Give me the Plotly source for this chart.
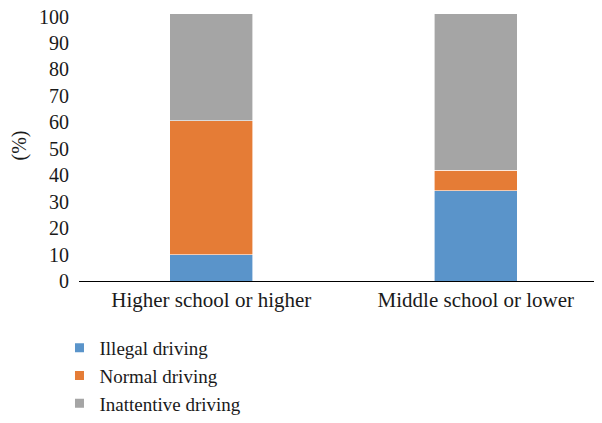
import plotly.graph_objects as go

categories = ["Higher school or higher", "Middle school or lower"]
series_names = ["Illegal driving", "Normal driving", "Inattentive driving"]
illegal = [10.0, 34.2]
normal = [50.7, 7.7]
inattentive = [40.3, 59.1]
colors = ["#5A94CA", "#E57C36", "#A5A5A5"]
y_ticks = [0, 10, 20, 30, 40, 50, 60, 70, 80, 90, 100]

FONT = "Liberation Serif"
TXT = "#1a1a1a"

fig = go.Figure()
for name, vals, col in zip(series_names, [illegal, normal, inattentive], colors):
    fig.add_trace(go.Bar(x=categories, y=vals, name=name, showlegend=False,
                         marker=dict(color=col, line=dict(color="white", width=0.6))))
for name, col in zip(series_names, colors):
    fig.add_trace(go.Scatter(x=[None], y=[None], mode="markers", name=name,
                             marker=dict(symbol="square", size=9, color=col)))

# page body has an 8px default margin, so the figure is sized to fit the window
fig.update_layout(
    width=594, height=415,
    margin=dict(l=71, r=0, t=2, b=142, autoexpand=False),
    barmode="stack", bargap=0.686,
    plot_bgcolor="white", paper_bgcolor="white",
    font=dict(family=FONT, size=20, color=TXT),
    xaxis=dict(range=[-0.5, 1.477], showline=True, linecolor="black", linewidth=1.3,
               ticks="", showgrid=False, zeroline=False, ticklabelstandoff=0,
               automargin=False, tickangle=0, ticklabeloverflow="allow",
               tickfont=dict(family=FONT, size=21, color=TXT)),
    yaxis=dict(range=[0, 102.5], tickvals=y_ticks, showgrid=False, zeroline=False,
               showline=False, ticks="", ticklabelstandoff=9, automargin=False,
               ticklabeloverflow="allow",
               title=dict(text="(%)", standoff=10, font=dict(family=FONT, size=20, color=TXT)),
               tickfont=dict(family=FONT, size=20, color=TXT)),
    legend=dict(orientation="v", x=-0.0373, xanchor="left", y=-0.524, yanchor="bottom",
                traceorder="normal",
                font=dict(family=FONT, size=19, color=TXT),
                bgcolor="rgba(0,0,0,0)", tracegroupgap=0),
)

fig.write_html("out.html")
